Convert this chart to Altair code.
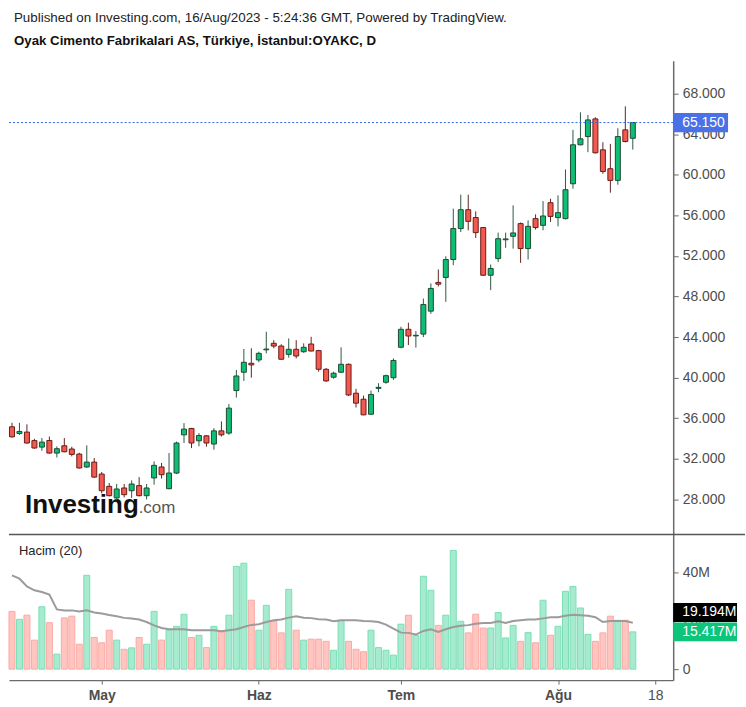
import altair as alt
import pandas as pd

# ---------------- data ----------------
opens = [35.16, 34.5, 34.64, 33.8, 33.16, 33.81, 32.57, 33.29, 32.97, 32.47,
         31.2, 31.68, 30.5, 29.29, 28.15, 29.13, 28.86, 29.36, 28.37, 30.12,
         31.2, 29.06, 30.6, 34.37, 35.0, 33.78, 34.27, 33.46, 34.76, 34.54,
         38.73, 40.54, 41.42, 41.75, 42.75, 43.39, 43.12, 42.3, 42.8, 42.56,
         43.32, 42.67, 40.83, 40.05, 40.54, 41.32, 38.47, 37.88, 36.4, 38.95,
         39.55, 40.0, 43.0, 44.77, 44.12, 44.3, 46.56, 49.39, 49.88, 51.65,
         54.7, 56.56, 55.79, 54.8, 50.1, 51.74, 53.6, 53.94, 55.19, 52.73,
         55.68, 55.02, 57.25, 55.78, 55.68, 59.12, 62.96, 63.77, 65.51, 62.46,
         60.6, 59.45, 64.43, 63.6]
highs = [35.55, 35.55, 35.4, 33.98, 34.05, 34.2, 33.23, 34.05, 33.2, 32.6,
         33.33, 32.08, 30.71, 29.62, 29.52, 29.52, 29.88, 30.2, 29.52, 31.75,
         31.6, 32.57, 33.7, 35.52, 35.05, 34.54, 34.35, 35.03, 35.69, 37.4,
         40.76, 42.83, 42.9, 42.56, 44.53, 43.7, 43.3, 43.87, 43.7, 43.39,
         44.03, 42.75, 40.95, 40.6, 43.0, 41.4, 38.9, 38.24, 38.73, 39.46,
         40.3, 41.9, 45.02, 45.42, 44.6, 47.8, 49.29, 50.67, 51.97, 56.66,
         58.04, 58.04, 56.4, 54.85, 51.16, 54.3, 54.3, 56.99, 55.3, 55.51,
         56.1, 57.41, 57.64, 57.97, 60.53, 64.43, 66.16, 65.9, 65.67, 63.21,
         63.05, 64.59, 66.75, 65.2]
lows = [34.1, 34.35, 33.5, 33.0, 32.8, 32.5, 32.14, 32.65, 32.24, 31.05,
        31.1, 30.15, 28.6, 28.3, 27.9, 28.2, 28.15, 28.3, 28.0, 29.45,
        30.05, 29.0, 30.5, 33.56, 33.06, 33.23, 33.2, 32.9, 34.2, 34.37,
        38.04, 39.68, 40.0, 41.52, 42.4, 42.9, 41.75, 41.97, 41.9, 42.45,
        42.6, 40.6, 39.6, 39.9, 40.45, 38.2, 37.06, 36.3, 36.34, 38.57,
        39.4, 39.78, 42.9, 43.22, 42.97, 44.0, 46.3, 49.0, 47.48, 51.09,
        54.36, 54.53, 53.77, 50.05, 48.63, 51.4, 52.79, 52.73, 51.32, 51.65,
        54.6, 54.53, 55.35, 54.92, 55.6, 58.63, 62.9, 62.23, 62.1, 60.1,
        58.24, 59.02, 63.2, 62.49]
closes = [34.17, 34.7, 33.56, 33.07, 33.65, 32.57, 33.0, 32.7, 32.44, 31.1,
          31.68, 30.2, 28.86, 28.37, 29.03, 28.47, 29.52, 28.37, 29.13, 31.36,
          30.44, 30.6, 33.56, 34.93, 33.56, 34.3, 33.56, 34.76, 34.37, 37.0,
          40.17, 41.52, 41.26, 42.4, 42.82, 43.12, 41.82, 42.8, 42.14, 43.0,
          42.63, 40.83, 39.68, 40.44, 41.32, 38.3, 37.49, 36.34, 38.35, 39.05,
          40.2, 41.7, 44.77, 44.11, 44.18, 47.22, 48.8, 49.22, 51.65, 54.7,
          56.56, 55.41, 54.3, 50.1, 50.77, 53.7, 53.68, 54.27, 52.73, 54.92,
          54.8, 55.94, 55.9, 56.27, 58.53, 62.96, 63.55, 65.41, 62.17, 60.33,
          59.45, 63.77, 63.28, 65.15]
volumes = [23.9, 20.6, 22.3, 12.0, 25.8, 19.2, 6.2, 21.2, 21.9, 10.3,
           38.8, 13.1, 10.9, 16.1, 12.0, 8.2, 8.8, 13.1, 10.3, 23.9,
           12.0, 16.1, 17.7, 22.7, 13.1, 14.0, 8.9, 17.7, 15.4, 22.3,
           42.5, 43.8, 28.5, 16.1, 26.4, 19.8, 15.0, 33.0, 16.1, 12.0,
           12.4, 12.4, 11.5, 7.8, 20.2, 11.5, 8.2, 7.2, 16.1, 8.9,
           7.8, 5.8, 18.6, 22.3, 14.0, 38.4, 32.6, 18.1, 22.3, 49.1,
           19.8, 15.0, 22.7, 17.0, 17.0, 23.4, 12.9, 18.1, 11.5, 15.1,
           10.9, 28.5, 14.0, 17.7, 32.2, 34.2, 25.3, 14.4, 11.5, 15.0,
           21.9, 20.2, 20.2, 15.417]
vol_ma = [38.8, 37.4, 34.2, 32.6, 31.9, 30.8, 24.7, 24.3, 24.3, 23.8,
          24.3, 23.4, 23.0, 22.4, 21.9, 21.2, 20.9, 20.5, 19.5, 18.1,
          17.0, 16.5, 16.5, 16.5, 16.1, 16.1, 16.1, 16.1, 15.7, 16.1,
          16.5, 17.4, 18.3, 18.6, 19.5, 20.2, 20.5, 21.3, 21.9, 21.3,
          21.1, 20.6, 20.5, 19.8, 20.2, 20.2, 20.2, 19.9, 19.8, 19.5,
          18.4, 16.8, 15.1, 15.0, 14.3, 15.8, 16.5, 15.4, 16.5, 17.4,
          17.9, 18.2, 18.8, 19.1, 19.1, 19.8, 19.1, 19.9, 20.2, 20.5,
          20.5, 21.0, 21.5, 21.5, 22.1, 22.5, 22.3, 22.1, 21.5, 19.5,
          19.9, 19.9, 19.9, 19.194]

tick_idx = [12, 33, 52, 73, 86]
tick_text = ["May", "Haz", "Tem", "Ağu", "18"]
price_ticks = [28, 32, 36, 40, 44, 48, 52, 56, 60, 64, 68]
volume_ticks = [0, 20, 40]
last_price = 65.15
last_volume = 15.417
last_ma = 19.194

title_line = "Published on Investing.com, 16/Aug/2023 - 5:24:36 GMT, Powered by TradingView."
subtitle_line = "Oyak Cimento Fabrikalari AS, Türkiye, İstanbul:OYAKC, D"

# ---------------- tables ----------------
df = pd.DataFrame({
    "i": list(range(len(opens))),
    "open": opens, "high": highs, "low": lows, "close": closes,
    "vol": volumes, "ma": vol_ma,
})
df["dir"] = ["up" if c >= o else "down" for o, c in zip(opens, closes)]

FONT = "Liberation Sans"
W = 666
H_TOP = 474
H_BOT = 146
P_DOM = [24.64, 71.24]
V_DOM = [-4.54, 55.67]
p_per_px = (P_DOM[1] - P_DOM[0]) / H_TOP
v_per_px = (V_DOM[1] - V_DOM[0]) / H_BOT

xscale = alt.Scale(domain=[-0.4, 88.4], nice=False, zero=False, padding=0)
pscale = alt.Scale(domain=P_DOM, nice=False, zero=False, padding=0)
vscale = alt.Scale(domain=V_DOM, nice=False, zero=False, padding=0)

wick_col = alt.Color("dir:N", legend=None,
                     scale=alt.Scale(domain=["up", "down"], range=["#2b5a41", "#5e2622"]))
body_fill = alt.Fill("dir:N", legend=None,
                     scale=alt.Scale(domain=["up", "down"], range=["#0dbf74", "#f25a50"]))
body_stroke = alt.Stroke("dir:N", legend=None,
                         scale=alt.Scale(domain=["up", "down"], range=["#1f4a33", "#6a1c17"]))

base = alt.Chart(df)

price_axis = alt.Axis(orient="right", values=price_ticks, format=".3f", grid=False,
                      tickSize=5, labelPadding=4)

wicks = base.mark_rule(strokeWidth=1).encode(
    x=alt.X("i:Q", scale=xscale, axis=None),
    y=alt.Y("low:Q", scale=pscale, axis=price_axis, title=None),
    y2="high:Q",
    color=wick_col,
)
bodies = base.mark_bar(width=5, strokeWidth=1).encode(
    x=alt.X("i:Q", scale=xscale, axis=None),
    y=alt.Y("open:Q", scale=pscale, title=None),
    y2="close:Q",
    fill=body_fill,
    stroke=body_stroke,
)

ann_price = alt.Chart(pd.DataFrame({"v": [last_price], "label": [f"{last_price:.3f}"]}))
last_rule = ann_price.mark_rule(color="#2f66f0", strokeWidth=1, strokeDash=[2, 2]).encode(
    x=alt.value(0), x2=alt.value(W), y=alt.Y("v:Q", scale=pscale, title=None))
price_badge = ann_price.transform_calculate(
    lo=f"datum.v - {9.7 * p_per_px}", hi=f"datum.v + {9.7 * p_per_px}"
).mark_rect(color="#4a72e6").encode(
    x=alt.value(W), x2=alt.value(W + 55),
    y=alt.Y("lo:Q", scale=pscale, title=None), y2="hi:Q")
price_badge_text = ann_price.mark_text(color="white", font=FONT, fontSize=14,
                                       align="left", baseline="middle").encode(
    x=alt.value(W + 9), y=alt.Y("v:Q", scale=pscale, title=None), text="label:N")

logo_df = alt.Chart(pd.DataFrame({"a": ["Investing"], "b": [".com"]}))
logo1 = logo_df.mark_text(font=FONT, fontSize=26, fontWeight="bold", color="#111",
                          align="left", baseline="alphabetic").encode(
    x=alt.value(16), y=alt.value(453), text="a:N")
logo2 = logo_df.mark_text(font=FONT, fontSize=17, color="#555",
                          align="left", baseline="alphabetic").encode(
    x=alt.value(130), y=alt.value(453), text="b:N")

top = alt.layer(logo1, logo2, wicks, bodies, last_rule, price_badge, price_badge_text).properties(
    width=W, height=H_TOP)

# ---------------- volume pane ----------------
vol_fill = alt.Fill("dir:N", legend=None,
                    scale=alt.Scale(domain=["up", "down"], range=["#a6ebcf", "#ffc5c1"]))
vol_stroke = alt.Stroke("dir:N", legend=None,
                        scale=alt.Scale(domain=["up", "down"], range=["#79dfb5", "#fba9a4"]))

label_expr = " : ".join(
    [f"datum.value == {v} ? '{t}'" for v, t in zip(tick_idx, tick_text)]) + " : ''"

x_axis = alt.Axis(orient="bottom", values=tick_idx, labelExpr=label_expr, grid=False,
                  tickSize=4, labelPadding=4,
                  labelFontWeight=alt.condition("datum.value == 86", alt.value("normal"), alt.value("bold")))
vol_axis = alt.Axis(orient="right", values=volume_ticks, grid=False, tickSize=5, labelPadding=4,
                    labelExpr="datum.value == 0 ? '0' : datum.value + 'M'")

vbase = alt.Chart(df)
vbars = vbase.mark_bar(width=6, strokeWidth=1).encode(
    x=alt.X("i:Q", scale=xscale, axis=x_axis, title=None),
    y=alt.Y("vol:Q", scale=vscale, axis=vol_axis, title=None),
    y2=alt.datum(0),
    fill=vol_fill, stroke=vol_stroke,
)
ma_line = vbase.mark_line(color="#9b9b9b", strokeWidth=2).encode(
    x=alt.X("i:Q", scale=xscale, title=None),
    y=alt.Y("ma:Q", scale=vscale, title=None),
)

ann_vol = alt.Chart(pd.DataFrame({
    "v": [last_ma, last_volume],
    "shift": [10.3, 0.0],
    "label": [f"{last_ma:.3f}M", f"{last_volume:.3f}M"],
    "kind": ["ma", "vol"],
}))
vol_badges = ann_vol.transform_calculate(
    lo=f"datum.v + datum.shift * {v_per_px} - {9.5 * v_per_px}",
    hi=f"datum.v + datum.shift * {v_per_px} + {9.5 * v_per_px}",
).mark_rect().encode(
    x=alt.value(W), x2=alt.value(W + 64),
    y=alt.Y("lo:Q", scale=vscale, title=None), y2="hi:Q",
    color=alt.Color("kind:N", legend=None,
                    scale=alt.Scale(domain=["ma", "vol"], range=["#000000", "#0cc47a"])),
)
vol_badge_text = ann_vol.transform_calculate(
    c=f"datum.v + datum.shift * {v_per_px}"
).mark_text(color="white", font=FONT, fontSize=14, align="left", baseline="middle").encode(
    x=alt.value(W + 9), y=alt.Y("c:Q", scale=vscale, title=None), text="label:N")

sep = alt.Chart(pd.DataFrame({"a": [0]})).mark_rule(color="#555", strokeWidth=1.5).encode(
    x=alt.value(0), x2=alt.value(W + 72), y=alt.value(0))
hacim = alt.Chart(pd.DataFrame({"t": ["Hacim (20)"]})).mark_text(
    font=FONT, fontSize=13, color="#222", align="left", baseline="middle").encode(
    x=alt.value(10), y=alt.value(17), text="t:N")

bottom = alt.layer(vbars, ma_line, sep, hacim, vol_badges, vol_badge_text).properties(
    width=W, height=H_BOT)

chart = alt.vconcat(
    top, bottom, spacing=0,
    title=alt.TitleParams(
        text=title_line, subtitle=subtitle_line, anchor="start", dx=6,
        font=FONT, fontSize=13.4, fontWeight="normal", color="#222",
        subtitleFont=FONT, subtitleFontSize=13.3, subtitleFontWeight="bold",
        subtitleColor="#111", subtitlePadding=9, offset=14,
    ),
).resolve_scale(
    color="independent", fill="independent", stroke="independent"
).properties(
    autosize=alt.AutoSizeParams(type="pad"),
    padding={"left": 8, "top": 10, "right": 0, "bottom": 5},
).configure_view(stroke=None).configure_axis(
    labelFont=FONT, labelFontSize=14, labelColor="#4d4d4d",
    domainColor="#6b6b6b", tickColor="#6b6b6b", domainWidth=1.5,
).configure_concat(spacing=0)

chart.save("out.html", embed_options={"renderer": "svg", "actions": False})
